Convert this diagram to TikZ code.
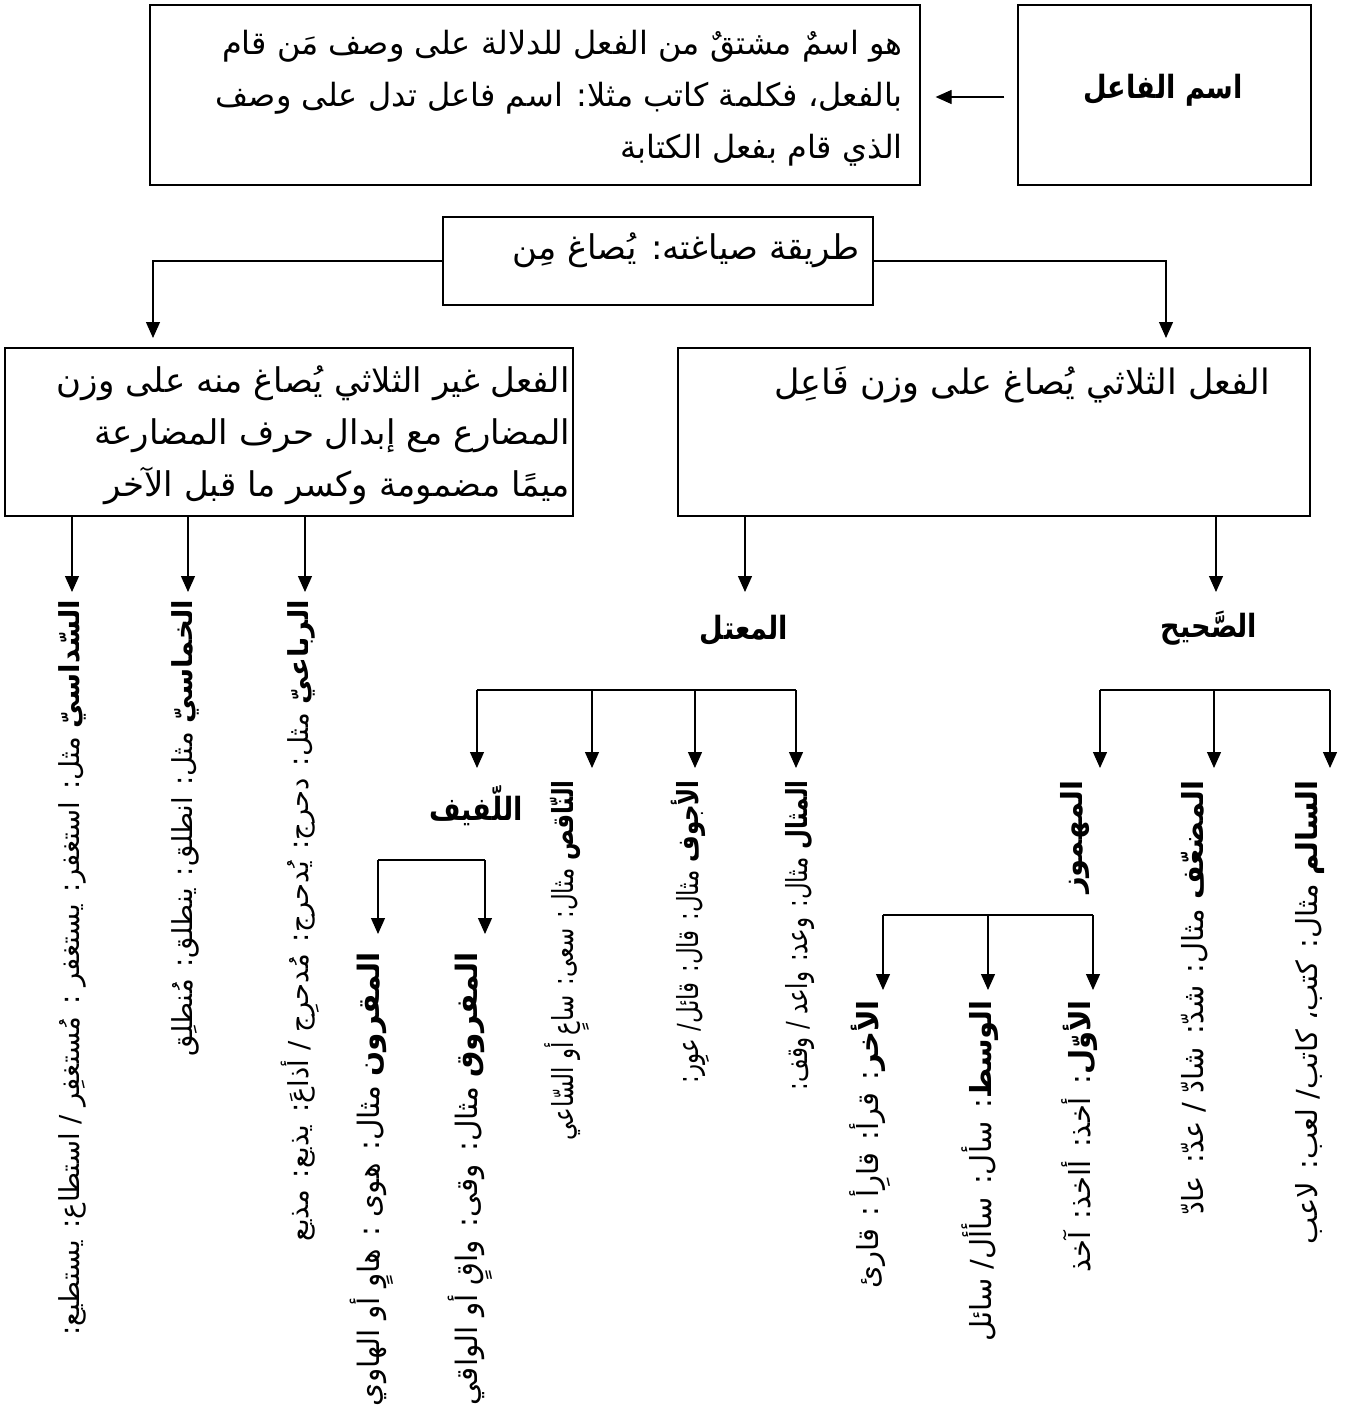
\documentclass[tikz,border=0pt]{standalone}
\usepackage{fontspec}
\usetikzlibrary{arrows.meta}
\TeXXeTstate=1
\newfontfamily\arfont[Script=Arabic]{DejaVu Sans}
\newfontfamily\arhead[Script=Arabic,FakeStretch=0.85]{DejaVu Sans}
\newfontfamily\arnar[Script=Arabic,FakeStretch=0.79]{DejaVu Sans}
\tikzset{
  box/.style={draw, line width=1.2pt, inner sep=0pt},
  tx/.style={font=\arfont\fontsize{32}{52}\selectfont, inner sep=0pt},
  hd/.style={font=\arhead\bfseries\fontsize{32}{40}\selectfont, inner sep=0pt},
  vt/.style={inner sep=0pt, rotate=90, anchor=east},
  vl/.style={vt, font=\arfont\fontsize{27.5}{30}\selectfont},
  vm/.style={vt, font=\arnar\fontsize{29}{30}\selectfont},
  vr/.style={vt, font=\arfont\fontsize{29}{30}\selectfont},
  ln/.style={line width=1.2pt},
  arr/.style={line width=1.2pt, -{Triangle[length=16pt,width=14pt]}}
}
\begin{document}
\begin{tikzpicture}[x=1pt,y=-1pt]
\useasboundingbox (0,0) rectangle (1349,1412);
\fill[white] (0,0) rectangle (1349,1412);
% top boxes
\node[box, minimum width=293pt, minimum height=180pt] (fa) at (1164.5,95) {};
\node[hd] (fat) at (1163,90) {\beginR اسم الفاعل\endR};
\node[box, minimum width=770pt, minimum height=180pt] (def) at (535,95) {};
\node[tx, align=right, anchor=east] (deft) at (903,98) {\beginR هو اسمٌ مشتقٌ من الفعل للدلالة على وصف مَن قام\endR\\ \beginR بالفعل، فكلمة كاتب مثلا: اسم فاعل تدل على وصف\endR\\ \beginR الذي قام بفعل الكتابة\endR};
\draw[arr, shorten <=13pt, shorten >=15pt] (fa.west |- 0,97) -- (def.east |- 0,97);
% how box
\node[box, minimum width=430pt, minimum height=88pt] (how) at (658,261) {};
\node[tx, font=\arfont\fontsize{34}{40}\selectfont, anchor=east] (howt) at (860,250) {\beginR طريقة صياغته: يُصاغ مِن\endR};
\coordinate (la) at (153,338);
\coordinate (ra) at (1166,338);
\draw[arr] (how.west) -| (la);
\draw[arr] (how.east) -| (ra);
% second-level boxes
\node[box, minimum width=568pt, minimum height=168pt] (lb) at (289,432) {};
\node[tx, font=\arfont\fontsize{34}{52}\selectfont, align=right, anchor=east] (lbt) at (570,435) {\beginR الفعل غير الثلاثي يُصاغ منه على وزن\endR\\ \beginR المضارع مع إبدال حرف المضارعة\endR\\ \beginR ميمًا مضمومة وكسر ما قبل الآخر\endR};
\node[box, minimum width=632pt, minimum height=168pt] (rb) at (994,432) {};
\node[tx, font=\arfont\fontsize{35}{40}\selectfont, anchor=east] (rbt) at (1270,385) {\beginR الفعل الثلاثي يُصاغ على وزن فَاعِل\endR};
% arrows from left box
\coordinate (l1) at (72,592);
\coordinate (l2) at (188,592);
\coordinate (l3) at (305,592);
\draw[arr] (lb.south -| l1) -- (l1);
\draw[arr] (lb.south -| l2) -- (l2);
\draw[arr] (lb.south -| l3) -- (l3);
\node[vl] (sd) at (72,600) {\beginR{\bfseries السّداسيّ} مثل: استغفر: يستغفر : مُستغفِر / استطاع: يستطيع:\endR};
\node[vl] (km) at (185,600) {\beginR{\bfseries الخماسيّ} مثل: انطلق: ينطلق: مُنطلِق\endR};
\node[vl] (rb4) at (300,600) {\beginR{\bfseries الرباعيّ} مثل: دحرج: يُدحرج: مُدحرِج / أذاعَ: يذيع: مذيع\endR};
% arrows from right box
\coordinate (r1) at (745,592);
\coordinate (r2) at (1216,592);
\draw[arr] (rb.south -| r1) -- (r1);
\draw[arr] (rb.south -| r2) -- (r2);
\node[hd] (mutal) at (744,630) {\beginR المعتل\endR};
\node[hd] (sahih) at (1209,628) {\beginR الصَّحيح\endR};
% mu'tal branch
\coordinate (mbar) at (0,690);
\coordinate (m1) at (477,768);
\coordinate (m2) at (592,768);
\coordinate (m3) at (695,768);
\coordinate (m4) at (796,768);
\draw[ln] (mbar -| m1) -- (mbar -| m4);
\foreach \c in {m1,m2,m3,m4} \draw[arr] (mbar -| \c) -- (\c);
\node[vm] (mith) at (800,780) {\beginR{\bfseries المثال} مثال: وعد: واعد / وقف:\endR};
\node[vm] (ajw) at (690,780) {\beginR{\bfseries الأجوف} مثال: قال: قائل/ عوِر:\endR};
\node[vm] (naq) at (567,780) {\beginR{\bfseries النّاقص} مثال: سعى: ساعٍ أو السّاعي\endR};
\node[hd] (lafif) at (476,806) {\beginR اللّفيف\endR};
% lafif branch
\coordinate (fbar) at (0,860);
\coordinate (f1) at (378,934);
\coordinate (f2) at (485,934);
\draw[ln] (fbar -| f1) -- (fbar -| f2);
\foreach \c in {f1,f2} \draw[arr] (fbar -| \c) -- (\c);
\node[vr, font=\arfont\fontsize{29.5}{30}\selectfont] (mafruq) at (470,952) {\beginR{\bfseries المفروق} مثال: وقى: واقٍ أو الواقي\endR};
\node[vr, font=\arfont\fontsize{29.5}{30}\selectfont] (maqrun) at (372,952) {\beginR{\bfseries المقرون} مثال: هوى : هاوٍ أو الهاوي\endR};
% sahih branch
\coordinate (sbar) at (0,690);
\coordinate (s1) at (1100,768);
\coordinate (s2) at (1214,768);
\coordinate (s3) at (1330,768);
\draw[ln] (sbar -| s1) -- (sbar -| s3);
\foreach \c in {s1,s2,s3} \draw[arr] (sbar -| \c) -- (\c);
\node[vr] (salim) at (1310,780) {\beginR{\bfseries السالم} مثال: كتب، كاتب/ لعب: لاعب\endR};
\node[vr] (mudaaf) at (1195,780) {\beginR{\bfseries المضعّف} مثال: شدّ: شادّ / عدّ: عادّ\endR};
\node[vr] (mahmuz) at (1075,780) {\beginR{\bfseries المهموز}\endR};
% mahmuz branch
\coordinate (hbar) at (0,915);
\coordinate (h1) at (883,990);
\coordinate (h2) at (988,990);
\coordinate (h3) at (1093,990);
\draw[ln] (hbar -| h1) -- (hbar -| h3);
\foreach \c in {h1,h2,h3} \draw[arr] (hbar -| \c) -- (\c);
\node[vr] (awwal) at (1080,1000) {\beginR{\bfseries الأوّل}: أخذ: أاخذ: آخذ\endR};
\node[vr] (wasat) at (980,1000) {\beginR{\bfseries الوسط}: سأل: سأأل/ سائل\endR};
\node[vr] (akhir) at (870,1000) {\beginR{\bfseries الأخر}: قرأ: قارِأ : قارئ\endR};
\end{tikzpicture}
\end{document}
